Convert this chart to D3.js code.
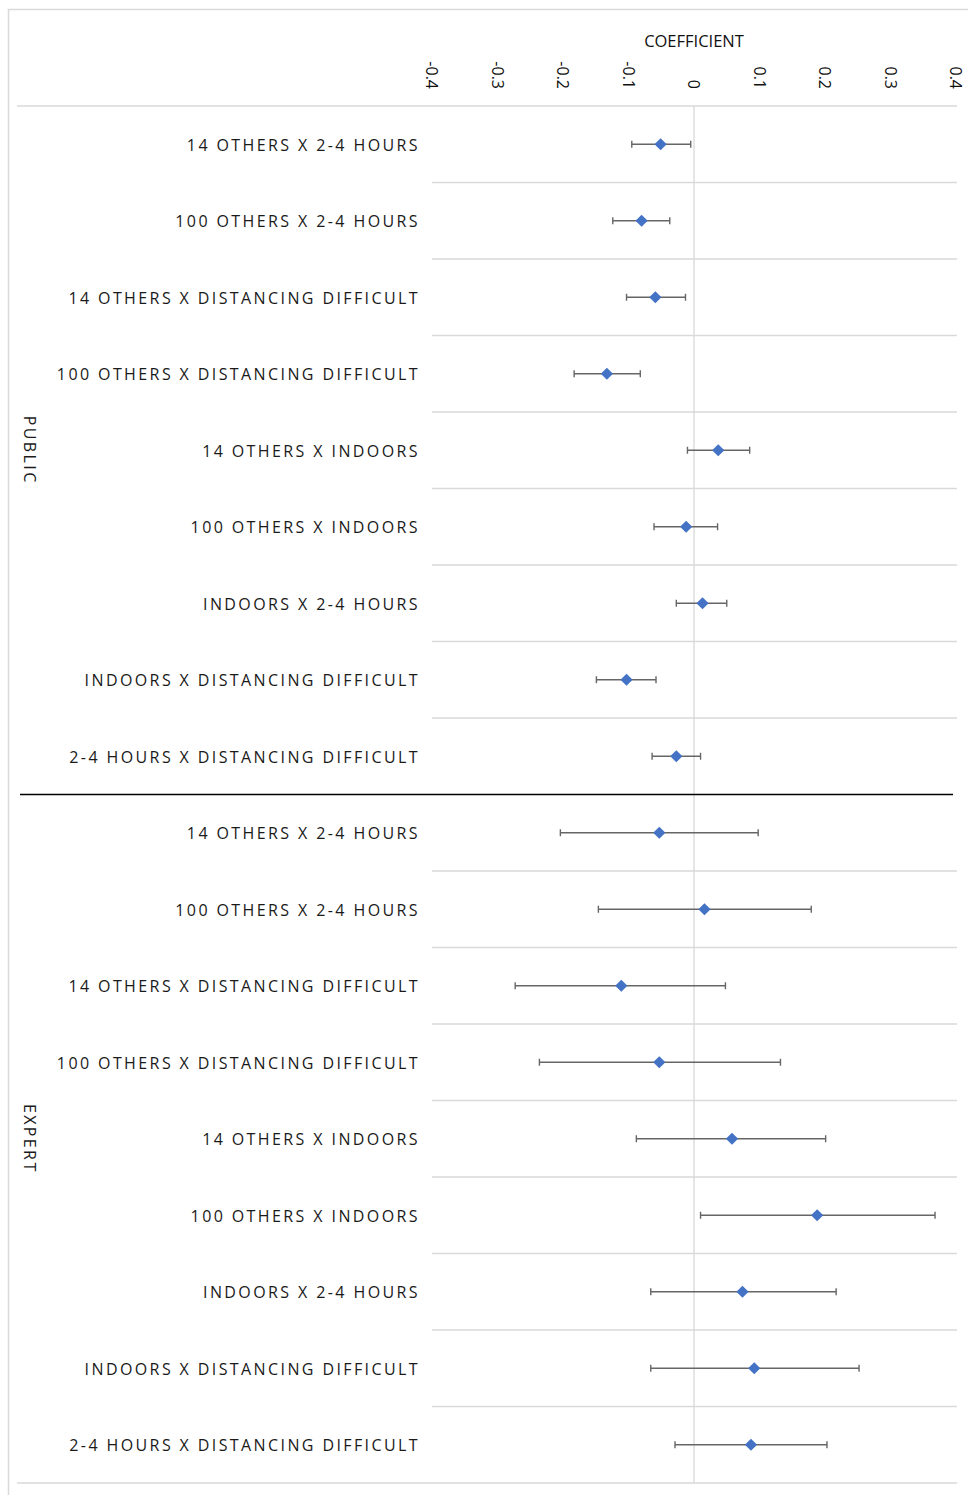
<!DOCTYPE html>
<html>
<head>
<meta charset="utf-8">
<script src="https://cdn.jsdelivr.net/npm/d3@7"></script>
<style>
  html, body { margin: 0; padding: 0; background: #fff; }
  svg { display: block; }
</style>
</head>
<body>
<svg id="chart" width="968" height="1495"></svg>
<script>
const categories = [
  "14 OTHERS X 2-4 HOURS",
  "100 OTHERS X 2-4 HOURS",
  "14 OTHERS X DISTANCING DIFFICULT",
  "100 OTHERS X DISTANCING DIFFICULT",
  "14 OTHERS X INDOORS",
  "100 OTHERS X INDOORS",
  "INDOORS X 2-4 HOURS",
  "INDOORS X DISTANCING DIFFICULT",
  "2-4 HOURS X DISTANCING DIFFICULT"
];
const groups = ["PUBLIC", "EXPERT"];

const publicCoef = [-0.051, -0.080, -0.059, -0.133, 0.037, -0.012, 0.013, -0.103, -0.027];
const publicLow  = [-0.095, -0.124, -0.103, -0.183, -0.010, -0.061, -0.027, -0.149, -0.064];
const publicHigh = [-0.005, -0.037, -0.013, -0.082, 0.085, 0.036, 0.050, -0.058, 0.010];

const expertCoef = [-0.053, 0.016, -0.111, -0.053, 0.058, 0.188, 0.074, 0.092, 0.087];
const expertLow  = [-0.204, -0.146, -0.273, -0.236, -0.088, 0.010, -0.066, -0.066, -0.029];
const expertHigh = [0.098, 0.179, 0.048, 0.132, 0.201, 0.368, 0.217, 0.252, 0.203];

const tickValues = [-0.4, -0.3, -0.2, -0.1, 0, 0.1, 0.2, 0.3, 0.4];
const tickLabels = ["-0.4", "-0.3", "-0.2", "-0.1", "0", "0.1", "0.2", "0.3", "0.4"];
const axisTitle = "COEFFICIENT";

const seriesValues = { PUBLIC: [publicCoef, publicLow, publicHigh], EXPERT: [expertCoef, expertLow, expertHigh] };

const rows = [];
groups.forEach((g, gi) => {
  const [c, lo, hi] = seriesValues[g];
  categories.forEach((cat, i) => {
    rows.push({ key: gi * categories.length + i, group: g, gi, cat, coef: c[i], low: lo[i], high: hi[i] });
  });
});

const svg = d3.select("#chart");
const W = 968, H = 1495;
const plotLeft = 432, plotRight = 956, plotTop = 106, plotBottom = 1483;
const font = "'Open Sans', 'Liberation Sans', sans-serif";

const x = d3.scaleLinear().domain([-0.4, 0.4]).range([plotLeft, plotRight]);
const y = d3.scaleBand().domain(rows.map(r => r.key)).range([plotTop, plotBottom]).padding(0);

const gridColor = "#d9d9d9";

// outer border
svg.append("rect").attr("x", 8.5).attr("y", 9.5).attr("width", W + 10).attr("height", H + 10)
  .attr("fill", "none").attr("stroke", gridColor).attr("stroke-width", 1.5);

// zero vertical line
svg.append("line").attr("x1", x(0)).attr("x2", x(0)).attr("y1", plotTop).attr("y2", plotBottom)
  .attr("stroke", gridColor).attr("stroke-width", 1.3);

// horizontal row lines (inside plot area)
const inner = rows.filter(r => r.key % categories.length !== 0);
svg.append("g").selectAll("line").data(inner).join("line")
  .attr("x1", plotLeft).attr("x2", plotRight + 1)
  .attr("y1", d => y(d.key)).attr("y2", d => y(d.key))
  .attr("stroke", gridColor).attr("stroke-width", 1.5);

// full-width lines: top of header and bottom
svg.append("line").attr("x1", 17).attr("x2", plotRight + 1).attr("y1", plotTop).attr("y2", plotTop)
  .attr("stroke", gridColor).attr("stroke-width", 1.5);
svg.append("line").attr("x1", 17).attr("x2", plotRight + 1).attr("y1", plotBottom).attr("y2", plotBottom)
  .attr("stroke", gridColor).attr("stroke-width", 1.5);

// group separator (black)
const sepY = y(categories.length);
svg.append("line").attr("x1", 20).attr("x2", 953).attr("y1", sepY).attr("y2", sepY)
  .attr("stroke", "#000").attr("stroke-width", 1.3);

// axis tick labels (rotated)
svg.append("g").selectAll("text").data(tickValues).join("text")
  .attr("transform", d => `translate(${x(d)},89) rotate(90)`)
  .attr("text-anchor", "end")
  .attr("dy", "0.35em")
  .attr("font-family", font)
  .attr("font-size", 16)
  .attr("fill", "#111")
  .text((d, i) => tickLabels[i]);

svg.append("text").attr("x", x(0)).attr("y", 47)
  .attr("text-anchor", "middle")
  .attr("font-family", font)
  .attr("font-size", 16.5)
  .attr("fill", "#111")
  .text(axisTitle);

// category labels
svg.append("g").selectAll("text").data(rows).join("text")
  .attr("x", 420)
  .attr("y", d => y(d.key) + y.bandwidth() / 2 + 1)
  .attr("dy", "0.35em")
  .attr("text-anchor", "end")
  .attr("font-family", font)
  .attr("font-size", 16)
  .attr("letter-spacing", "2.4px")
  .attr("fill", "#1a1a1a")
  .text(d => d.cat);

// group labels
groups.forEach((g, gi) => {
  const y0 = y(gi * categories.length);
  const y1 = y(gi * categories.length + categories.length - 1) + y.bandwidth();
  svg.append("text")
    .attr("transform", `translate(30,${(y0 + y1) / 2}) rotate(90)`)
    .attr("text-anchor", "middle")
    .attr("dy", "0.35em")
    .attr("font-family", font)
    .attr("font-size", 16)
    .attr("letter-spacing", "2.4px")
    .attr("fill", "#1a1a1a")
    .text(g);
});

// error bars
const errColor = "#666";
const eb = svg.append("g");
eb.selectAll("line.bar").data(rows).join("line").attr("class", "bar")
  .attr("x1", d => x(d.low)).attr("x2", d => x(d.high))
  .attr("y1", d => y(d.key) + y.bandwidth() / 2).attr("y2", d => y(d.key) + y.bandwidth() / 2)
  .attr("stroke", errColor).attr("stroke-width", 1.4);
["low", "high"].forEach(k => {
  eb.selectAll("line.cap-" + k).data(rows).join("line").attr("class", "cap-" + k)
    .attr("x1", d => x(d[k])).attr("x2", d => x(d[k]))
    .attr("y1", d => y(d.key) + y.bandwidth() / 2 - 3.5).attr("y2", d => y(d.key) + y.bandwidth() / 2 + 3.5)
    .attr("stroke", errColor).attr("stroke-width", 1.4);
});

// diamond markers
const diamond = d3.symbol().type(d3.symbolDiamond2).size(95);
svg.append("g").selectAll("path").data(rows).join("path")
  .attr("transform", d => `translate(${x(d.coef)},${y(d.key) + y.bandwidth() / 2})`)
  .attr("d", diamond)
  .attr("fill", "#4472C4");
</script>
</body>
</html>
